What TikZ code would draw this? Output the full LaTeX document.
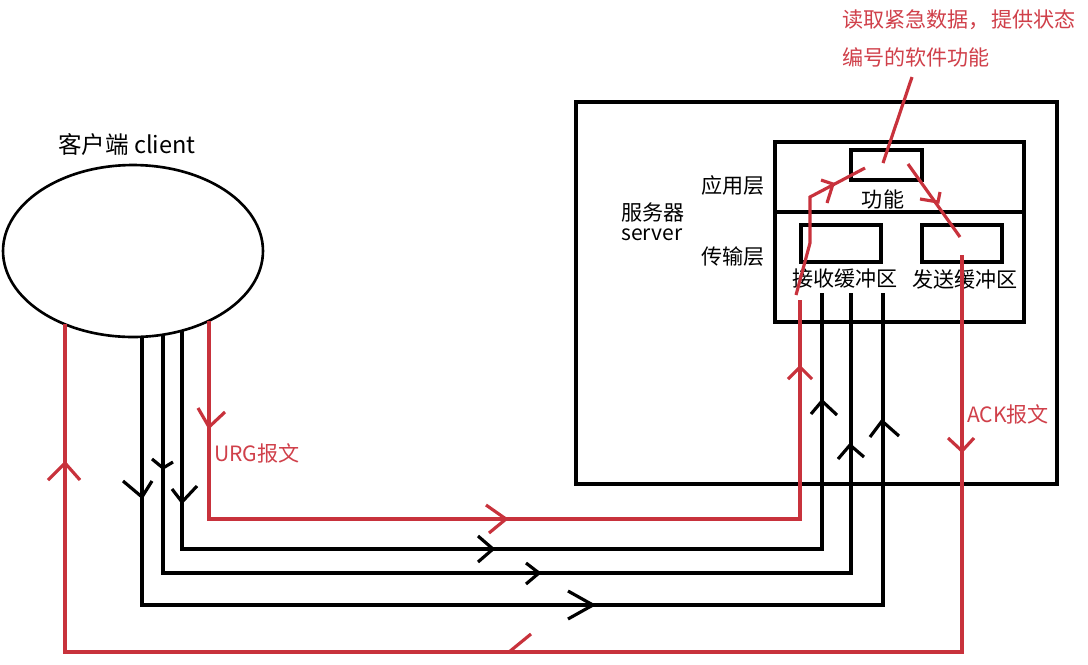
\documentclass[tikz,border=0pt]{standalone}
\usepackage{fontspec}
\newfontfamily\cjk{Noto Sans CJK SC}
\usetikzlibrary{shapes.geometric}
\definecolor{lnred}{RGB}{200,50,60}
\definecolor{txred}{RGB}{208,64,74}
\begin{document}
\begin{tikzpicture}[x=0.02cm,y=-0.02cm,
  lbl/.style={font=\cjk\fontsize{12}{14}\selectfont, inner sep=0pt},
  rlbl/.style={lbl, text=txred},
  box/.style={draw, line width=1.8pt, inner sep=0pt},
  blk/.style={line width=1.8pt, line join=miter},
  redl/.style={draw=lnred, line width=1.8pt, line join=miter},
]
\useasboundingbox[fill=white] (0,0) rectangle (1088,664);
% shapes
\node[draw, ellipse, line width=1.5pt, minimum width=5.2cm, minimum height=3.44cm, inner sep=0pt] (client) at (133,251) {};
\node[box, minimum width=9.62cm, minimum height=7.64cm] (server) at (816.5,293) {};
\node[box, minimum width=4.98cm, minimum height=3.6cm] (layers) at (899.5,232) {};
\coordinate (dv) at (0,212);
\draw[line width=1.8pt] (layers.west |- dv) -- (layers.east |- dv);
\node[box, minimum width=1.42cm, minimum height=0.6cm] (func) at (886.5,165) {};
\node[box, minimum width=1.6cm, minimum height=0.74cm] (recv) at (841,243.5) {};
\node[box, minimum width=1.6cm, minimum height=0.74cm] (send) at (962,243.5) {};
% labels
\node[lbl, font=\cjk\fontsize{13.4}{16}\selectfont] (clientlbl) at (127,145) {客户端 client};
\node[lbl, anchor=west] (srv1) at (621,212) {服务器};
\node[lbl, anchor=west] (srv2) at (621,235) {server};
\node[lbl] (app) at (733,185) {应用层};
\node[lbl] (trans) at (733,257) {传输层};
\node[lbl] (funclbl) at (883,199) {功能};
\node[lbl] (recvlbl) at (845,279) {接收缓冲区};
\node[lbl] (sendlbl) at (965,279) {发送缓冲区};
\node[rlbl] (urg) at (257,453) {URG报文};
\node[rlbl] (ack) at (1008,414) {ACK报文};
\node[rlbl, anchor=west] (note1) at (842,20) {读取紧急数据，\kern0.05em 提供状态};
\node[rlbl, anchor=west] (note2) at (842,57) {编号的软件功能};
% black data lines
\draw[blk] (142,337) -- (142,605) -- (883,605) -- (883,293);
\draw[blk] (163,335) -- (163,573) -- (851,573) -- (851,293);
\draw[blk] (182,331) -- (182,549) -- (822,549) -- (822,293);
% red lines
\draw[redl] (209,321) -- (209,519) -- (800,519) -- (800,300);
\draw[redl] (796,295) -- (810,243) -- (810,197) -- (865,168);
\draw[redl] (908,164) -- (960,237);
\draw[redl] (912,77) -- (883,163);
\draw[redl] (962,255) -- (962,652) -- (65,652) -- (65,324);
% black chevrons
\draw[blk] (123,481) -- (142,497) -- (152,481);
\draw[blk] (152,459) -- (163,468) -- (173,462);
\draw[blk] (172,489) -- (182,502) -- (197,486);
\draw[blk] (478,536) -- (493,549) -- (478,562);
\draw[blk] (526,563) -- (539,573) -- (526,584);
\draw[blk] (568,591) -- (593,605) -- (568,619);
\draw[blk] (811,414) -- (822,401) -- (837,415);
\draw[blk] (838,459) -- (850,445) -- (864,457);
\draw[blk] (870,437) -- (882,421) -- (899,436);
% red chevrons
\draw[redl] (486,505) -- (506,519) -- (489,533);
\draw[redl] (788,379) -- (800,367) -- (812,379);
\draw[redl] (198,408) -- (209,427) -- (225,412);
\draw[redl] (48,480) -- (65,463) -- (80,480);
\draw[redl] (948,438) -- (962,451) -- (974,438);
\draw[redl] (821,180) -- (833,184) -- (827,203);
\draw[redl] (920,199) -- (938,202) -- (940,192);
\draw[redl] (509,652) -- (531,634);
\end{tikzpicture}
\end{document}
